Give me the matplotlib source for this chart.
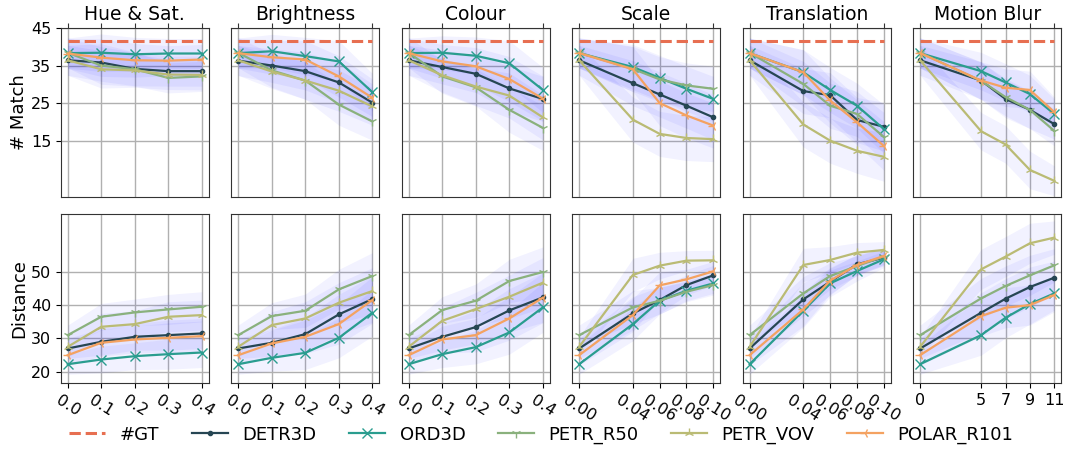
import matplotlib
matplotlib.use("Agg")
import matplotlib.pyplot as plt
import numpy as np

panels = ["Hue & Sat.", "Brightness", "Colour", "Scale", "Translation", "Motion Blur"]
x_hue = [0.0, 0.1, 0.2, 0.3, 0.4]
x_bri = [0.0, 0.1, 0.2, 0.3, 0.4]
x_col = [0.0, 0.1, 0.2, 0.3, 0.4]
x_sca = [0.00, 0.04, 0.06, 0.08, 0.10]
x_tra = [0.00, 0.04, 0.06, 0.08, 0.10]
x_mot = [0, 5, 7, 9, 11]
xs = [x_hue, x_bri, x_col, x_sca, x_tra, x_mot]
xlabels = [["0.0", "0.1", "0.2", "0.3", "0.4"]] * 3 + \
          [["0.00", "0.04", "0.06", "0.08", "0.10"]] * 2 + [["0", "5", "7", "9", "11"]]

models = ["DETR3D", "ORD3D", "PETR_R50", "PETR_VOV", "POLAR_R101"]
gt_match = 41.4

# # Match (top row), per panel: lists per model
match_detr3d = [[36.4, 35.8, 34.1, 33.5, 33.5], [36.3, 35.0, 33.5, 30.5, 25.1], [36.4, 34.6, 32.8, 28.9, 26.1],
                [36.4, 30.3, 27.3, 24.3, 21.2], [36.4, 28.2, 27.1, 20.5, 18.7], [36.4, 31.0, 26.1, 23.2, 19.4]]
match_ord3d = [[38.3, 38.4, 38.0, 38.2, 38.2], [38.3, 38.8, 37.5, 36.1, 27.9], [38.3, 38.4, 37.6, 35.6, 28.5],
               [38.3, 34.6, 31.7, 28.8, 26.1], [38.3, 33.2, 28.5, 24.3, 18.1], [38.3, 33.5, 30.5, 27.4, 22.1]]
match_petr_r50 = [[38.4, 35.0, 34.0, 31.7, 32.1], [38.4, 33.7, 31.0, 24.6, 20.1], [38.4, 32.1, 29.2, 23.2, 18.4],
                  [38.4, 34.1, 31.3, 29.7, 28.8], [38.4, 30.1, 24.3, 22.1, 16.0], [38.4, 30.9, 26.6, 23.2, 17.6]]
match_petr_vov = [[36.4, 34.0, 33.7, 32.6, 32.5], [36.4, 33.4, 31.0, 28.3, 24.1], [36.4, 32.4, 29.4, 27.0, 21.2],
                  [36.4, 20.6, 16.8, 15.7, 15.4], [36.4, 19.3, 15.0, 12.3, 10.7], [36.4, 17.5, 14.0, 7.2, 4.3]]
match_polar = [[38.2, 37.1, 36.4, 36.3, 36.6], [38.3, 37.2, 36.6, 32.1, 26.4], [38.3, 36.1, 34.8, 31.4, 26.2],
               [38.3, 34.0, 25.0, 21.7, 19.0], [38.3, 33.2, 25.7, 19.9, 13.6], [38.3, 31.0, 29.1, 28.5, 22.6]]
match_std = [[4.0, 5.0, 4.5, 4.0, 4.0], [4.0, 4.5, 5.0, 5.5, 5.0], [4.0, 4.5, 5.0, 6.0, 6.0],
             [4.0, 6.0, 6.0, 6.0, 6.0], [4.0, 6.0, 6.0, 6.0, 6.5], [4.0, 5.0, 5.0, 5.0, 4.0]]

# Distance (bottom row)
dist_detr3d = [[27.0, 29.0, 30.5, 31.0, 31.5], [27.0, 28.7, 31.3, 37.2, 41.8], [27.0, 30.5, 33.4, 38.4, 42.3],
               [27.0, 37.5, 41.5, 46.0, 48.9], [27.0, 41.7, 47.0, 52.2, 54.2], [27.0, 37.7, 41.9, 45.4, 48.2]]
dist_ord3d = [[22.3, 23.7, 24.7, 25.3, 25.8], [22.3, 24.2, 25.7, 30.2, 37.7], [22.3, 25.3, 27.4, 31.8, 39.3],
              [22.3, 34.3, 41.3, 44.3, 46.5], [22.3, 38.3, 46.5, 50.2, 53.7], [22.3, 31.0, 36.2, 40.3, 43.5]]
dist_petr_r50 = [[31.0, 36.5, 37.8, 38.7, 39.5], [31.0, 36.7, 38.3, 44.7, 48.7], [31.0, 38.5, 41.3, 47.2, 49.9],
                 [31.0, 39.3, 41.3, 44.0, 46.0], [31.0, 43.5, 48.7, 51.7, 54.5], [31.0, 42.0, 45.7, 48.9, 51.9]]
dist_petr_vov = [[27.5, 33.5, 34.3, 36.5, 37.0], [27.5, 34.0, 36.0, 40.7, 44.2], [27.5, 35.3, 38.8, 42.5, 46.7],
                 [27.5, 49.0, 51.8, 53.3, 53.4], [27.5, 52.0, 53.5, 55.7, 56.5], [27.5, 50.7, 54.5, 58.5, 60.2]]
dist_polar = [[25.0, 28.7, 29.7, 30.2, 30.7], [25.0, 28.5, 30.5, 34.3, 41.5], [25.0, 29.7, 31.0, 36.0, 42.2],
              [25.0, 37.0, 45.9, 47.7, 50.1], [25.0, 38.7, 47.3, 52.0, 54.7], [25.0, 36.7, 39.2, 40.0, 43.0]]
dist_std = [[3.0, 4.0, 4.0, 4.5, 4.5], [3.0, 4.0, 5.0, 6.0, 7.0], [3.0, 4.0, 5.0, 6.5, 7.5],
            [3.0, 5.0, 4.0, 3.0, 3.0], [3.0, 5.0, 4.0, 3.0, 2.5], [3.0, 6.0, 6.0, 6.0, 5.0]]

colors = {"#GT": "#E76F51", "DETR3D": "#264653", "ORD3D": "#2A9D8F", "PETR_R50": "#8AB17D",
          "PETR_VOV": "#BABB74", "POLAR_R101": "#F4A261"}
markers = {"DETR3D": ".", "ORD3D": "x", "PETR_R50": "1", "PETR_VOV": "2", "POLAR_R101": "3"}

match_all = [match_detr3d, match_ord3d, match_petr_r50, match_petr_vov, match_polar]
dist_all = [dist_detr3d, dist_ord3d, dist_petr_r50, dist_petr_vov, dist_polar]

fig, axes = plt.subplots(2, 6, figsize=(10.7, 4.51), dpi=100, sharey="row")
fig.subplots_adjust(left=0.057, right=0.9916, top=0.938, bottom=0.151, wspace=0.155, hspace=0.10)

for j in range(6):
    x = np.array(xs[j], dtype=float)
    for row, (data_all, std_all) in enumerate([(match_all, match_std), (dist_all, dist_std)]):
        ax = axes[row, j]
        ax.set_axisbelow(True)
        ax.grid(True, color="#b0b0b0", lw=1.0)
        sd = np.array(std_all[j])
        for m, data in zip(models, data_all):
            y = np.array(data[j])
            ax.fill_between(x, y - sd, y + sd, color="blue", alpha=0.05, lw=0)
        if row == 0:
            ax.plot(x, [gt_match] * len(x), ls="--", color=colors["#GT"], lw=2.2, label="#GT")
        for m, data in zip(models, data_all):
            ms = 7 if markers[m] != "." else 6
            ax.plot(x, data[j], color=colors[m], marker=markers[m], ms=ms, lw=1.6, label=m)
        ax.set_xticks(x)
        for sp in ax.spines.values():
            sp.set_color("#333333")
        if row == 0:
            ax.set_title(panels[j], fontsize=13.5)
            ax.xaxis.tick_top()
            ax.tick_params(axis="x", labeltop=False, color="#333333")
        else:
            if j < 5:
                ax.set_xticklabels(xlabels[j], rotation=-32, fontsize=11.5)
            else:
                ax.set_xticklabels(xlabels[j], fontsize=11.5)
        if j > 0:
            ax.tick_params(axis="y", left=False)
        ax.tick_params(axis="y", labelsize=11.5)

axes[0, 0].set_ylim(0, 45)
axes[0, 0].set_yticks([15, 25, 35, 45])
axes[1, 0].set_ylim(16.7, 67.3)
axes[1, 0].set_yticks([20, 30, 40, 50])
axes[0, 0].set_ylabel("# Match", fontsize=13, labelpad=2)
axes[1, 0].set_ylabel("Distance", fontsize=13, labelpad=2)

handles, labels = axes[0, 0].get_legend_handles_labels()
fig.legend(handles, labels, loc="lower center", bbox_to_anchor=(0.506, -0.02), ncol=6,
           frameon=False, fontsize=13, columnspacing=1.8, handlelength=2.0, handletextpad=0.8)

fig.savefig("out.png", dpi=100)
